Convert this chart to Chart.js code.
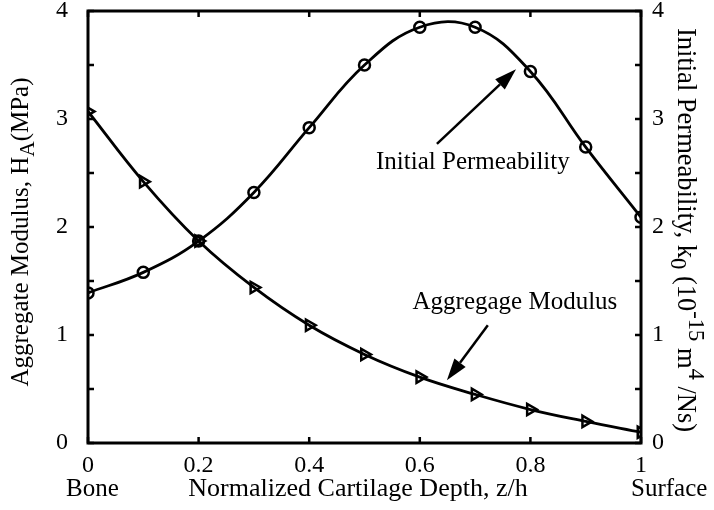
<!DOCTYPE html>
<html>
<head>
<meta charset="utf-8">
<script src="https://cdn.jsdelivr.net/npm/chart.js@4.4.1/dist/chart.umd.min.js"></script>
<style>
  html, body { margin: 0; padding: 0; background: #fff; }
  #wrap { width: 714px; height: 510px; }
</style>
</head>
<body>
<div id="wrap"><canvas id="chart" width="714" height="510"></canvas></div>
<script>
// data
const depth = [0, 0.1, 0.2, 0.3, 0.4, 0.5, 0.6, 0.7, 0.8, 0.9, 1.0];
const permeability = [1.39, 1.58, 1.87, 2.32, 2.92, 3.50, 3.85, 3.85, 3.44, 2.74, 2.09];
const modulus = [3.07, 2.42, 1.87, 1.44, 1.09, 0.82, 0.61, 0.45, 0.31, 0.20, 0.10];
const xTicks = [0, 0.2, 0.4, 0.6, 0.8, 1];
const yTicks = [0, 1, 2, 3, 4];
const endLabels = ['Bone', 'Surface'];

const FONT = '"Liberation Serif", "Times New Roman", serif';
const SIZE = 24;
const TITLE = 25;

// annotation spots, in data units
const notes = [
  { text: 'Initial Permeability', at: [0.696, 2.60], from: [0.631, 2.77], to: [0.774, 3.46] },
  { text: 'Aggregage Modulus', at: [0.772, 1.30], from: [0.723, 1.09], to: [0.649, 0.58] }
];

function drawRich(ctx, parts, x, y, rot, size) {
  ctx.save();
  ctx.translate(x, y);
  ctx.rotate(rot);
  ctx.fillStyle = '#000';
  ctx.textBaseline = 'middle';
  ctx.textAlign = 'left';
  let total = 0;
  parts.forEach(p => {
    const s = p.sub || p.sup ? size * 0.85 : size;
    ctx.font = s + 'px ' + FONT;
    p.w = ctx.measureText(p.t).width;
    p.s = s;
    total += p.w;
  });
  let cx = -total / 2;
  parts.forEach(p => {
    ctx.font = p.s + 'px ' + FONT;
    const dy = p.sub ? size * 0.3 : p.sup ? -size * 0.38 : 0;
    ctx.fillText(p.t, cx, dy);
    cx += p.w;
  });
  ctx.restore();
}

function arrow(ctx, x1, y1, x2, y2) {
  const a = Math.atan2(y2 - y1, x2 - x1);
  const len = 22, half = 7;
  const bx = x2 - len * Math.cos(a), by = y2 - len * Math.sin(a);
  ctx.beginPath();
  ctx.moveTo(x1, y1);
  ctx.lineTo(bx, by);
  ctx.lineWidth = 2.5;
  ctx.strokeStyle = '#000';
  ctx.stroke();
  ctx.beginPath();
  ctx.moveTo(x2, y2);
  ctx.lineTo(bx + half * Math.sin(a), by - half * Math.cos(a));
  ctx.lineTo(bx - half * Math.sin(a), by + half * Math.cos(a));
  ctx.closePath();
  ctx.fillStyle = '#000';
  ctx.fill();
}

const framePlugin = {
  id: 'frame',
  afterDraw(chart) {
    const { ctx, chartArea: ca, scales } = chart;
    const xs = scales.x, ys = scales.y;
    ctx.save();
    ctx.strokeStyle = '#000';
    ctx.lineWidth = 3;
    ctx.strokeRect(ca.left, ca.top, ca.right - ca.left, ca.bottom - ca.top);

    // inward ticks
    ctx.lineWidth = 2.5;
    const tl = 6;
    ctx.beginPath();
    xTicks.forEach(v => {
      const px = xs.getPixelForValue(v);
      ctx.moveTo(px, ca.bottom); ctx.lineTo(px, ca.bottom - tl);
      ctx.moveTo(px, ca.top); ctx.lineTo(px, ca.top + tl);
    });
    for (let v = 0; v <= 4; v += 0.5) {
      const py = ys.getPixelForValue(v);
      ctx.moveTo(ca.left, py); ctx.lineTo(ca.left + tl, py);
      ctx.moveTo(ca.right, py); ctx.lineTo(ca.right - tl, py);
    }
    ctx.stroke();

    // Bone / Surface under the end ticks
    ctx.fillStyle = '#000';
    ctx.font = TITLE + 'px ' + FONT;
    ctx.textBaseline = 'middle';
    ctx.textAlign = 'left';
    ctx.fillText(endLabels[0], xs.getPixelForValue(0) - 22, 489);
    ctx.fillText(endLabels[1], xs.getPixelForValue(1) - 10, 489);

    // axis titles
    drawRich(ctx, [{ t: 'Normalized Cartilage Depth, z/h' }], 358, 489, 0, 26);
    drawRich(ctx, [{ t: 'Aggregate Modulus, H' }, { t: 'A', sub: true }, { t: '(MPa)' }],
      21, 232, -Math.PI / 2, TITLE);
    drawRich(ctx, [{ t: 'Initial Permeability, k' }, { t: '0', sub: true }, { t: ' (10' },
      { t: '-15', sup: true }, { t: ' m' }, { t: '4', sup: true }, { t: ' /Ns)' }],
      685, 230, Math.PI / 2, 26.5);

    // annotations
    notes.forEach(n => {
      arrow(ctx, xs.getPixelForValue(n.from[0]), ys.getPixelForValue(n.from[1]),
        xs.getPixelForValue(n.to[0]), ys.getPixelForValue(n.to[1]));
      drawRich(ctx, [{ t: n.text }], xs.getPixelForValue(n.at[0]), ys.getPixelForValue(n.at[1]), 0, TITLE);
    });
    ctx.restore();
  }
};

const tickFont = { family: FONT, size: SIZE };

function noPad(s) {
  s.paddingTop = 0; s.paddingBottom = 0; s.paddingLeft = 0; s.paddingRight = 0;
}

new Chart(document.getElementById('chart'), {
  type: 'line',
  data: {
    datasets: [
      {
        label: 'Initial Permeability',
        data: depth.map((x, i) => ({ x: x, y: permeability[i] })),
        yAxisID: 'y2',
        borderColor: '#000',
        borderWidth: 2.8,
        tension: 0.4,
        pointStyle: 'circle',
        pointRadius: 5.5,
        pointBorderWidth: 2.5,
        pointBorderColor: '#000',
        pointBackgroundColor: 'rgba(0,0,0,0)'
      },
      {
        label: 'Aggregate Modulus',
        data: depth.map((x, i) => ({ x: x, y: modulus[i] })),
        yAxisID: 'y',
        borderColor: '#000',
        borderWidth: 2.8,
        tension: 0.4,
        pointStyle: 'triangle',
        rotation: 90,
        pointRadius: 6.5,
        pointBorderWidth: 2.5,
        pointBorderColor: '#000',
        pointBackgroundColor: 'rgba(0,0,0,0)'
      }
    ]
  },
  options: {
    responsive: false,
    devicePixelRatio: 1,
    animation: false,
    layout: { padding: { top: 11, left: 0, right: 0, bottom: 0 } },
    plugins: { legend: { display: false }, tooltip: { enabled: false } },
    scales: {
      x: {
        type: 'linear', min: 0, max: 1,
        afterBuildTicks: s => { s.ticks = xTicks.map(v => ({ value: v })); },
        afterFit: s => { s.height = 67; noPad(s); },
        ticks: { font: tickFont, color: '#000', padding: 8, maxRotation: 0,
          callback: v => String(Number(v.toFixed(1))) },
        grid: { display: false, drawTicks: false },
        border: { display: false }
      },
      y: {
        position: 'left', min: 0, max: 4,
        afterBuildTicks: s => { s.ticks = yTicks.map(v => ({ value: v })); },
        afterFit: s => { s.width = 88; noPad(s); },
        ticks: { font: tickFont, color: '#000', padding: 20 },
        grid: { display: false, drawTicks: false },
        border: { display: false }
      },
      y2: {
        position: 'right', min: 0, max: 4,
        afterBuildTicks: s => { s.ticks = yTicks.map(v => ({ value: v })); },
        afterFit: s => { s.width = 73; noPad(s); },
        ticks: { font: tickFont, color: '#000', padding: 11 },
        grid: { display: false, drawTicks: false },
        border: { display: false }
      }
    }
  },
  plugins: [framePlugin]
});
</script>
</body>
</html>
